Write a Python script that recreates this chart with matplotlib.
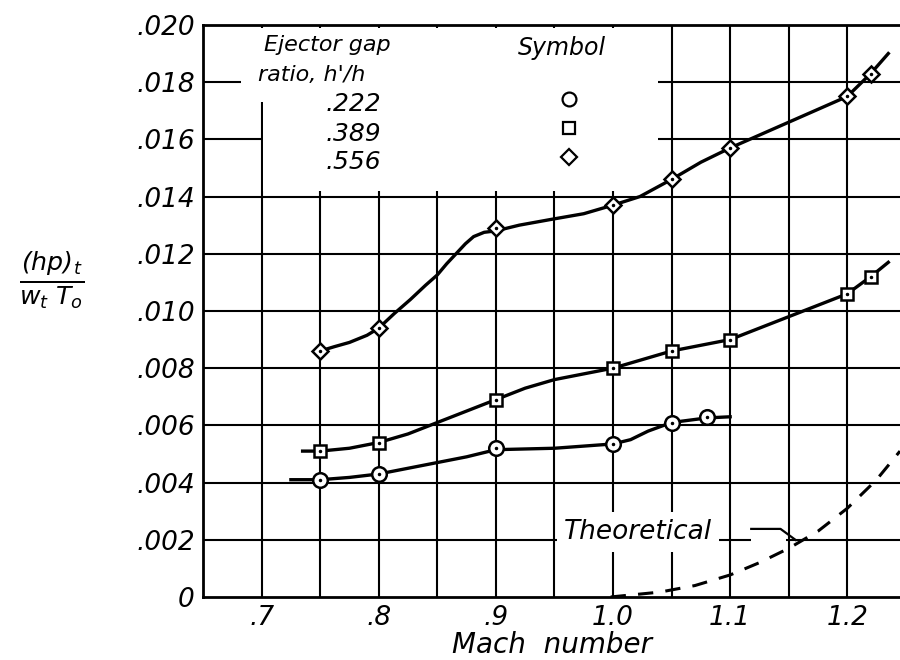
import matplotlib
matplotlib.use("Agg")
import matplotlib.pyplot as plt
from matplotlib.patches import Rectangle
import numpy as np

plt.rcParams['font.family'] = ['DejaVu Sans']
plt.rcParams['font.style'] = 'italic'
plt.rcParams['mathtext.fontset'] = 'dejavusans'

# test points
mach_pts = {
    ".222": [0.75, 0.80, 0.90, 1.00, 1.05, 1.08],
    ".389": [0.75, 0.80, 0.90, 1.00, 1.05, 1.10, 1.20, 1.22],
    ".556": [0.75, 0.80, 0.90, 1.00, 1.05, 1.10, 1.20, 1.22],
}
hp_pts = {
    ".222": [0.0041, 0.0043, 0.0052, 0.00535, 0.0061, 0.0063],
    ".389": [0.0051, 0.0054, 0.0069, 0.0080, 0.0086, 0.0090, 0.0106, 0.0112],
    ".556": [0.0086, 0.0094, 0.0129, 0.0137, 0.0146, 0.0157, 0.0175, 0.0183],
}

# faired curves
curve_222_x = [0.725, 0.75, 0.775, 0.80, 0.825, 0.85, 0.875, 0.90, 0.95, 1.00, 1.015, 1.03, 1.05, 1.08, 1.10]
curve_222_y = [0.0041, 0.0041, 0.00418, 0.0043, 0.0045, 0.0047, 0.0049, 0.00515, 0.0052, 0.00535, 0.0055,
               0.0058, 0.0061, 0.00626, 0.0063]
curve_389_x = [0.735, 0.75, 0.775, 0.80, 0.825, 0.85, 0.875, 0.90, 0.925, 0.95, 0.975, 1.00, 1.05, 1.10,
               1.15, 1.20, 1.22, 1.235]
curve_389_y = [0.0051, 0.0051, 0.0052, 0.0054, 0.0057, 0.0061, 0.0065, 0.0069, 0.0073, 0.0076, 0.0078,
               0.0080, 0.0086, 0.0090, 0.0098, 0.0106, 0.0112, 0.0117]
curve_556_x = [0.75, 0.762, 0.775, 0.79, 0.80, 0.813, 0.827, 0.84, 0.85, 0.858, 0.866, 0.874, 0.881, 0.89,
               0.90, 0.92, 0.947, 0.975, 1.00, 1.023, 1.05, 1.075, 1.10, 1.15, 1.20, 1.22, 1.235]
curve_556_y = [0.0086, 0.00875, 0.0089, 0.00915, 0.0094, 0.0099, 0.0104, 0.0109, 0.01126, 0.01165, 0.0120,
               0.01235, 0.0126, 0.01275, 0.0128, 0.0130, 0.0132, 0.0134, 0.0137, 0.0140, 0.0146, 0.0152,
               0.0157, 0.0166, 0.0175, 0.0183, 0.0190]
theory_x = [0.998, 1.04, 1.07, 1.10, 1.125, 1.15, 1.175, 1.20, 1.225, 1.245]
theory_y = [0.0, 0.00017, 0.0004, 0.00077, 0.0012, 0.0017, 0.0023, 0.0031, 0.0041, 0.0051]

markers = {".222": ("o", 10.5), ".389": ("s", 8.5), ".556": ("D", 8.5)}

xticks = [0.7, 0.8, 0.9, 1.0, 1.1, 1.2]
xtick_labels = [".7", ".8", ".9", "1.0", "1.1", "1.2"]
yticks = np.arange(0, 0.0201, 0.002)
ytick_labels = ["0", ".002", ".004", ".006", ".008", ".010", ".012", ".014", ".016", ".018", ".020"]

fig = plt.figure(figsize=(9, 6.6), dpi=100)
ax = fig.add_axes([0.2256, 0.0955, 0.7744, 0.8667])
ax.set_xlim(0.65, 1.245)
ax.set_ylim(0, 0.020)

# grid
for gx in np.arange(0.70, 1.25, 0.05):
    ax.axvline(gx, color="black", lw=1.5, zorder=1)
for gy in yticks[1:]:
    ax.axhline(gy, color="black", lw=1.5, zorder=1)

# blank area behind the key
ax.add_patch(Rectangle((0.7015, 0.0142), 1.038 - 0.7015, 0.0057, fc="white", ec="none", zorder=1.5))
ax.add_patch(Rectangle((0.682, 0.0173), 0.02, 0.0026, fc="white", ec="none", zorder=1.5))
# gap in the .002 line near the label
ax.add_patch(Rectangle((1.118, 0.0019), 0.03, 0.0002, fc="white", ec="none", zorder=1.5))

ax.spines["right"].set_visible(False)
for sp in ["left", "bottom", "top"]:
    ax.spines[sp].set_linewidth(2.0)

ax.set_xticks(xticks)
ax.set_xticklabels(xtick_labels)
ax.set_yticks(yticks)
ax.set_yticklabels(ytick_labels)
ax.tick_params(length=0, labelsize=19, pad=6)

# curves
ax.plot(curve_222_x, curve_222_y, color="black", lw=2.4, zorder=3)
ax.plot(curve_389_x, curve_389_y, color="black", lw=2.4, zorder=3)
ax.plot(curve_556_x, curve_556_y, color="black", lw=2.4, zorder=3)
ax.plot(theory_x, theory_y, color="black", lw=2.2, ls=(0, (5, 4)), zorder=3)

for key in mach_pts:
    m, ms = markers[key]
    ax.plot(mach_pts[key], hp_pts[key], ls="none", marker=m, ms=ms, mfc="white",
            mec="black", mew=1.8, zorder=4)
    ax.plot(mach_pts[key], hp_pts[key], ls="none", marker=".", ms=3, color="black", zorder=5)

# key
ax.text(0.702, 0.0193, "Ejector gap", fontsize=16, va="center", zorder=6)
ax.text(0.697, 0.01825, "ratio, h'/h", fontsize=16, va="center", zorder=6)
ax.text(0.919, 0.0192, "Symbol", fontsize=17, va="center", zorder=6)
key_y = [0.0174, 0.0164, 0.0154]
text_y = [0.01722, 0.0162, 0.0152]
for (key, (m, ms)), ky, ty in zip(markers.items(), key_y, text_y):
    ax.text(0.755, ty, key, fontsize=18, va="center", zorder=6)
    ax.plot([0.962], [ky], ls="none", marker=m, ms=ms * 0.95, mfc="white", mec="black", mew=1.6, zorder=6)

# theoretical label
ax.text(0.958, 0.00227, "Theoretical", fontsize=19, va="center", zorder=6,
        bbox=dict(fc="white", ec="none", pad=5))
ax.plot([1.118, 1.143, 1.156], [0.00238, 0.00238, 0.00199], color="black", lw=1.6, zorder=6)

ax.set_xlabel("Mach  number", fontsize=20, labelpad=0)
fig.text(0.057, 0.575, r"$\frac{(hp)_t}{w_t\ T_o}$", fontsize=26, ha="center", va="center")

fig.savefig("out.png", dpi=100)
